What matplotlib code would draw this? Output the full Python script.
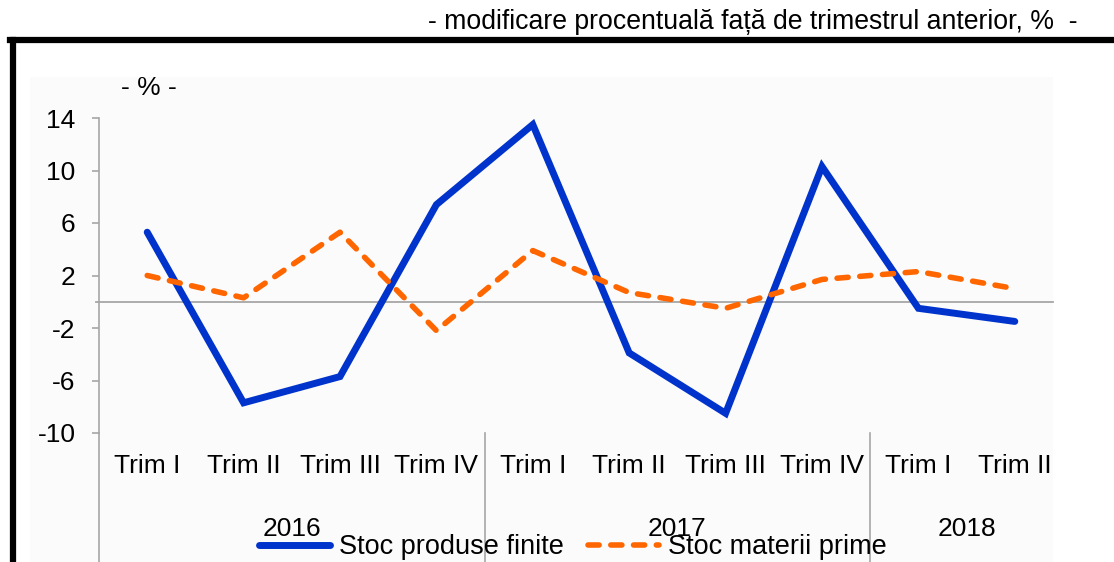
import matplotlib
matplotlib.use("Agg")
import matplotlib.pyplot as plt
import matplotlib.transforms as mtransforms
from matplotlib.lines import Line2D

plt.rcParams['font.family'] = ['Liberation Sans', 'DejaVu Sans']
plt.rcParams['axes.unicode_minus'] = False

quarters = ["Trim I", "Trim II", "Trim III", "Trim IV",
            "Trim I", "Trim II", "Trim III", "Trim IV",
            "Trim I", "Trim II"]
years = ["2016", "2017", "2018"]
year_sizes = [4, 4, 2]
produse_finite = [5.3, -7.7, -5.7, 7.4, 13.5, -3.9, -8.5, 10.3, -0.5, -1.5]
materii_prime = [2.0, 0.3, 5.3, -2.2, 3.9, 0.7, -0.5, 1.7, 2.3, 1.0]
yticks = [14, 10, 6, 2, -2, -6, -10]

W, H = 1114, 562
fig = plt.figure(figsize=(W / 100, H / 100), dpi=100)
fig.patch.set_facecolor("white")

# light chart-area background
bg = plt.Rectangle((30 / W, 0), (1053 - 30) / W, 1 - 77 / H,
                   transform=fig.transFigure, facecolor="#fbfbfb",
                   edgecolor="none", zorder=-5)
fig.add_artist(bg)

ax = fig.add_axes([99 / W, 1 - 433 / H, 964 / W, 315 / H])
ax.set_facecolor("none")
ax.set_zorder(2)

x = list(range(len(quarters)))
ax.plot(x, produse_finite, color="#0033cc", lw=5.0, solid_joinstyle="miter",
        solid_capstyle="round", label="Stoc produse finite", zorder=3)
ax.plot(x, materii_prime, color="#ff6600", lw=4.0, dashes=(2.0, 2.1),
        dash_capstyle="round", label="Stoc materii prime", zorder=3)

ax.plot([-0.53, 9.4], [0, 0], color="#a6a6a6", lw=1.3, zorder=2, clip_on=False)
ax.set_xlim(-0.5, len(quarters) - 0.5)
ax.set_ylim(-10, 14)
ax.set_yticks(yticks)
ax.set_xticks([])
ax.tick_params(axis="y", direction="out", length=5, width=1.2, color="#a6a6a6",
               pad=12, labelsize=19)
for s in ["top", "right", "bottom"]:
    ax.spines[s].set_visible(False)
ax.spines["left"].set_color("#a6a6a6")
ax.spines["left"].set_linewidth(1.2)

trans = mtransforms.blended_transform_factory(ax.transData, ax.transAxes)
bottom = -0.42
ax.plot([-0.5, -0.5], [0, bottom], transform=trans, color="#a6a6a6", lw=1.2, clip_on=False)
for i, q in enumerate(quarters):
    ax.text(i, -0.105, q, transform=trans, ha="center", va="center", fontsize=19)

start = 0
for yr, n in zip(years, year_sizes):
    ax.text(start + n / 2 - 0.5, -0.305, yr, transform=trans, ha="center",
            va="center", fontsize=19)
    end = start + n - 0.5
    if end < len(quarters) - 0.5:
        ax.plot([end, end], [0, bottom], transform=trans, color="#a6a6a6",
                lw=1.2, clip_on=False)
    start += n

ax.text(0.023, 1.095, "- % -", transform=ax.transAxes, ha="left", va="center",
        fontsize=19)

fig.text(1078 / W, 1 - 22 / H,
         "- modificare procentuală față de trimestrul anterior, %  -",
         ha="right", va="center", fontsize=19.2)

# thick frame lines at top and left
fig.add_artist(Line2D([10 / W, 1], [1 - 40 / H, 1 - 40 / H], color="black",
                      lw=4.5, transform=fig.transFigure))
fig.add_artist(Line2D([13 / W, 13 / W], [0, 1 - 40 / H], color="black",
                      lw=4.5, transform=fig.transFigure, solid_capstyle="projecting"))

leg = fig.legend(loc="center", bbox_to_anchor=(573 / W, 1 - 547 / H), ncol=2,
                 frameon=False, fontsize=19.5, handlelength=2.6, handletextpad=0.35,
                 columnspacing=0.9, borderpad=0, borderaxespad=0)
leg.set_zorder(5)

fig.savefig("out.png", dpi=100)
